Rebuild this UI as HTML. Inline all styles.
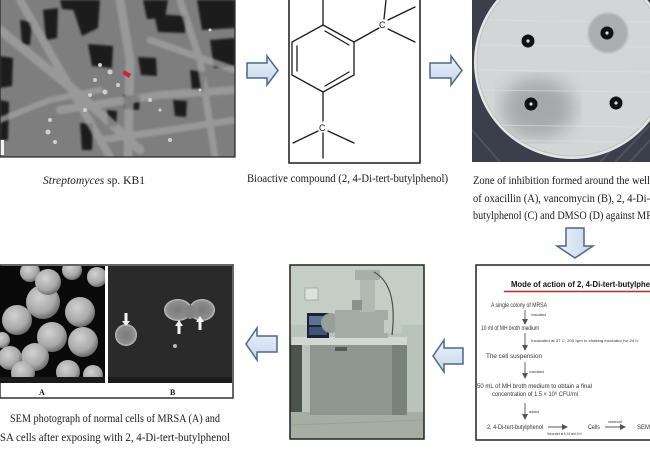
<!DOCTYPE html>
<html><head><meta charset="utf-8"><style>
html,body{margin:0;padding:0;background:#fff;}
svg{display:block;}
</style></head><body>
<svg width="650" height="450" viewBox="0 0 650 450" xmlns="http://www.w3.org/2000/svg">
<defs>
<linearGradient id="ag" x1="0" y1="0" x2="0" y2="1"><stop offset="0" stop-color="#eef3fa"/><stop offset="1" stop-color="#c6d5ea"/></linearGradient>
<linearGradient id="agh" x1="0" y1="0" x2="1" y2="0"><stop offset="0" stop-color="#eef3fa"/><stop offset="1" stop-color="#c6d5ea"/></linearGradient>
<radialGradient id="sph" cx="0.4" cy="0.35" r="0.65"><stop offset="0" stop-color="#d2d2d2"/><stop offset="0.7" stop-color="#a8a8a8"/><stop offset="1" stop-color="#6e6e6e"/></radialGradient>
<radialGradient id="cel" cx="0.5" cy="0.5" r="0.5"><stop offset="0" stop-color="#7a7a7a"/><stop offset="0.8" stop-color="#8e8e8e"/><stop offset="1" stop-color="#c4c4c4"/></radialGradient>
<filter id="b1"><feGaussianBlur stdDeviation="1"/></filter>
<filter id="b2"><feGaussianBlur stdDeviation="2.5"/></filter>
<filter id="b8"><feGaussianBlur stdDeviation="9"/></filter>
<clipPath id="semc"><rect x="0" y="0" width="235" height="157"/></clipPath>
<clipPath id="platec"><rect x="472" y="0" width="178" height="162"/></clipPath>
<clipPath id="dishc"><ellipse cx="572" cy="62" rx="95" ry="94"/></clipPath>
<clipPath id="pa"><rect x="0" y="266" width="105" height="117"/></clipPath>
<clipPath id="pb"><rect x="108" y="266" width="124" height="117"/></clipPath>
<clipPath id="mc"><rect x="290" y="265" width="134" height="174"/></clipPath>
<marker id="ah" markerWidth="6" markerHeight="6" refX="5" refY="3" orient="auto" markerUnits="userSpaceOnUse"><path d="M0,0 L6,3 L0,6 Z" fill="#555"/></marker>
</defs>

<!-- ===== SEM Streptomyces ===== -->
<g clip-path="url(#semc)">
<rect x="0" y="0" width="235" height="157" fill="#7e7e7e"/>
<g fill="#1c1c1c" filter="url(#b1)">
<polygon points="70,0 100,0 98,28 82,36"/>
<polygon points="60,0 77,0 74,10 62,9"/>
<polygon points="43,10 58,8 57,38 46,40"/>
<polygon points="88,44 113,46 112,68 92,66"/>
<polygon points="138,57 156,58 157,76 141,75"/>
<polygon points="143,0 168,0 165,18 147,19"/>
<polygon points="154,14 186,16 185,33 158,32"/>
<polygon points="197,0 235,0 235,28 202,30"/>
<polygon points="0,56 13,58 12,86 0,88"/>
<polygon points="210,40 235,38 235,66 214,68"/>
<polygon points="123,95 140,96 139,110 125,109"/>
<polygon points="173,100 187,101 186,117 175,116"/>
<polygon points="0,100 9,102 8,140 0,140"/>
<polygon points="80,123 93,124 92,150 82,150"/>
<polygon points="107,110 117,111 116,127 108,126"/>
<polygon points="20,20 32,22 30,45 22,44"/>
<polygon points="190,70 205,72 204,92 192,90"/>
</g>
<g stroke="#a2a2a2" stroke-linecap="round" fill="none" opacity="0.75" filter="url(#b1)">
<path d="M0,30 L80,95 L140,150" stroke-width="9"/>
<path d="M20,0 L60,70 L110,157" stroke-width="8"/>
<path d="M120,0 L130,60 L128,157" stroke-width="9"/>
<path d="M235,90 L160,95 L60,110" stroke-width="8"/>
<path d="M235,120 L170,130 L100,140" stroke-width="7"/>
<path d="M150,40 L235,70" stroke-width="7"/>
<path d="M0,120 L50,100 L100,90" stroke-width="6"/>
<path d="M180,0 L200,60 L215,157" stroke-width="7"/>
</g>
<g fill="#d0d0d0">
<circle cx="100" cy="65" r="2"/><circle cx="110" cy="72" r="2.5"/><circle cx="95" cy="80" r="2"/><circle cx="118" cy="85" r="2"/><circle cx="105" cy="92" r="2.5"/><circle cx="90" cy="95" r="2"/><circle cx="50" cy="120" r="2"/><circle cx="48" cy="132" r="2.5"/><circle cx="55" cy="142" r="2"/><circle cx="150" cy="100" r="2"/><circle cx="160" cy="110" r="1.5"/><circle cx="200" cy="90" r="1.5"/><circle cx="210" cy="30" r="1.5"/><circle cx="170" cy="140" r="2"/><circle cx="85" cy="110" r="2"/>
</g>
<path d="M124,70 L131,74 L129,78 L123,74 Z" fill="#d0203a"/>
<rect x="0" y="140" width="4" height="15" fill="#f2f2f2"/>
</g>
<rect x="0" y="-2" width="235" height="159" fill="none" stroke="#222" stroke-width="1.2"/>
<text x="43" y="184" font-family="Liberation Serif, serif" font-size="11.5" fill="#1a1a1a" textLength="102" lengthAdjust="spacingAndGlyphs"><tspan font-style="italic">Streptomyces</tspan> sp. KB1</text>

<!-- arrow 1 -->
<path d="M247,63 H267 V56 L278,70.5 L267,85 V78 H247 Z" fill="url(#ag)" stroke="#4d6690" stroke-width="1.5" stroke-linejoin="miter"/>

<!-- ===== Structure ===== -->
<rect x="289" y="-3" width="131" height="166" fill="#fff" stroke="#1a1a1a" stroke-width="1.5"/>
<g stroke="#1a1a1a" stroke-width="1.3" fill="none" stroke-linecap="round">
<polygon points="323,25 354,42 354,75 323,92 292,75 292,42"/>
<line x1="297" y1="46" x2="297" y2="71"/>
<line x1="325" y1="31" x2="349" y2="45"/>
<line x1="349" y1="72" x2="325" y2="86"/>
<line x1="323" y1="25" x2="323" y2="0"/>
<line x1="354" y1="42" x2="379" y2="28"/>
<line x1="384" y1="19" x2="386" y2="0"/>
<line x1="388" y1="20" x2="415" y2="7"/>
<line x1="388" y1="29" x2="415" y2="42"/>
<line x1="323" y1="92" x2="323" y2="121"/>
<line x1="318" y1="131" x2="293" y2="143"/>
<line x1="328" y1="131" x2="354" y2="143"/>
<line x1="323" y1="133" x2="323" y2="158"/>
</g>
<text x="379" y="28" font-family="Liberation Sans, sans-serif" font-size="9" fill="#1a1a1a">C</text>
<text x="319" y="131" font-family="Liberation Sans, sans-serif" font-size="9" fill="#1a1a1a">C</text>
<text x="247" y="182" font-family="Liberation Serif, serif" font-size="11.5" fill="#1a1a1a" textLength="201" lengthAdjust="spacingAndGlyphs">Bioactive compound (2, 4-Di-tert-butylphenol)</text>

<!-- arrow 2 -->
<path d="M430,63 H451 V56 L462,70.5 L451,85 V78 H430 Z" fill="url(#ag)" stroke="#4d6690" stroke-width="1.5"/>

<!-- ===== Plate ===== -->
<g clip-path="url(#platec)">
<rect x="472" y="0" width="178" height="162" fill="#3b3e4b"/>
<g stroke="#575b6a" stroke-width="2" opacity="0.7">
<line x1="600" y1="162" x2="650" y2="110"/><line x1="615" y1="162" x2="650" y2="125"/><line x1="630" y1="162" x2="650" y2="140"/><line x1="472" y1="130" x2="500" y2="162"/>
</g>
<ellipse cx="572" cy="62" rx="98" ry="97" fill="#e4e5e6"/>
<ellipse cx="572" cy="62" rx="95" ry="94" fill="#d3d5d6" stroke="#bfc1c2" stroke-width="1"/>
<g clip-path="url(#dishc)">
<ellipse cx="538" cy="108" rx="36" ry="30" fill="#a6a8aa" filter="url(#b8)"/>
<g stroke="#dfe0e1" stroke-width="1" opacity="0.6">
<line x1="480" y1="20" x2="650" y2="22"/><line x1="480" y1="45" x2="650" y2="47"/><line x1="480" y1="70" x2="650" y2="72"/><line x1="480" y1="90" x2="650" y2="92"/><line x1="480" y1="125" x2="650" y2="127"/><line x1="480" y1="140" x2="650" y2="142"/>
</g>
</g>
<circle cx="608" cy="33" r="20" fill="#abadaf" filter="url(#b1)"/>
<g fill="#111">
<circle cx="528" cy="41" r="6.5"/><circle cx="607" cy="33" r="6.5"/><circle cx="531" cy="104" r="6.5"/><circle cx="616" cy="103" r="6.5"/>
</g>
<g fill="#ddd">
<circle cx="528" cy="41" r="1.6"/><circle cx="607" cy="33" r="1.6"/><circle cx="531" cy="104" r="1.6"/><circle cx="616" cy="103" r="1.6"/>
</g>
</g>
<g font-family="Liberation Serif, serif" font-size="11.5" fill="#1a1a1a">
<text x="473" y="184" textLength="177" lengthAdjust="spacingAndGlyphs">Zone of inhibition formed around the well</text>
<text x="473" y="202" textLength="177" lengthAdjust="spacingAndGlyphs">of oxacillin (A), vancomycin (B), 2, 4-Di-</text>
<text x="473" y="219" textLength="180" lengthAdjust="spacingAndGlyphs">butylphenol (C) and DMSO (D) against MR</text>
</g>

<!-- down arrow -->
<path d="M566,228 H584 V246 H593 L575,258 L557,246 H566 Z" fill="url(#agh)" stroke="#4d6690" stroke-width="1.5"/>

<!-- ===== Flowchart ===== -->
<rect x="476" y="265" width="180" height="175" fill="#fff" stroke="#222" stroke-width="1.5"/>
<text x="511" y="287" font-family="Liberation Sans, sans-serif" font-weight="bold" font-size="8" fill="#111" textLength="139" lengthAdjust="spacingAndGlyphs">Mode of action of 2, 4-Di-tert-butylphe</text>
<line x1="504" y1="291.5" x2="650" y2="291.5" stroke="#d42020" stroke-width="1.6"/>
<g font-family="Liberation Sans, sans-serif" fill="#333">
<text x="491" y="307" font-size="6" textLength="56" lengthAdjust="spacingAndGlyphs">A single colony of MRSA</text>
<text x="531" y="316" font-size="3.5" textLength="15" lengthAdjust="spacingAndGlyphs">Inoculated</text>
<text x="481" y="330" font-size="6" textLength="58" lengthAdjust="spacingAndGlyphs">10 ml of MH broth medium</text>
<text x="531" y="342" font-size="3.5" textLength="108" lengthAdjust="spacingAndGlyphs">Incubated at 37 C, 200 rpm in shaking incubator for 24 h.</text>
<text x="486" y="358" font-size="6" textLength="56" lengthAdjust="spacingAndGlyphs">The cell suspension</text>
<text x="529" y="373" font-size="3.5" textLength="15" lengthAdjust="spacingAndGlyphs">Inoculated</text>
<text x="477" y="388" font-size="6" textLength="115" lengthAdjust="spacingAndGlyphs">50 mL of MH broth medium to obtain a final</text>
<text x="492" y="396" font-size="6" textLength="86" lengthAdjust="spacingAndGlyphs">concentration of  1.5 × 10⁶ CFU/ml</text>
<text x="529" y="413" font-size="3.5" textLength="10" lengthAdjust="spacingAndGlyphs">added</text>
<text x="487" y="429" font-size="6" textLength="56" lengthAdjust="spacingAndGlyphs">2, 4-Di-tert-butylphenol</text>
<text x="588" y="429" font-size="6" textLength="12" lengthAdjust="spacingAndGlyphs">Cells</text>
<text x="637" y="429" font-size="6" textLength="13" lengthAdjust="spacingAndGlyphs">SEM</text>
<text x="547" y="435" font-size="3.5" textLength="35" lengthAdjust="spacingAndGlyphs">Harvested at 6, 18 and 24 h</text>
<text x="608" y="423" font-size="3.5" textLength="14" lengthAdjust="spacingAndGlyphs">observed</text>
</g>
<g stroke="#555" stroke-width="0.9" marker-end="url(#ah)">
<line x1="525" y1="310" x2="525" y2="324"/>
<line x1="525" y1="333" x2="525" y2="350"/>
<line x1="525" y1="362" x2="525" y2="378"/>
<line x1="525" y1="403" x2="525" y2="419"/>
<line x1="548" y1="427" x2="567" y2="427"/>
<line x1="605" y1="427" x2="625" y2="427"/>
</g>

<!-- left arrow 1 -->
<path d="M463,348 H444 V340 L433,356 L444,372 V364 H463 Z" fill="url(#ag)" stroke="#4d6690" stroke-width="1.5"/>

<!-- ===== SEM machine photo ===== -->
<g clip-path="url(#mc)">
<rect x="290" y="265" width="134" height="174" fill="#b8c3ba"/>
<rect x="290" y="265" width="134" height="60" fill="#c4cec5"/>
<rect x="290" y="345" width="12" height="70" fill="#4c524c"/>
<rect x="290" y="412" width="134" height="27" fill="#a6aea4"/>
<line x1="290" y1="425" x2="424" y2="420" stroke="#98a096" stroke-width="1"/>
<rect x="305" y="288" width="13" height="12" fill="#dde1dc" stroke="#9aa29a" stroke-width="0.8"/>
<rect x="292" y="337" width="115" height="8" fill="#d3d6d1"/>
<rect x="310" y="345" width="82" height="70" fill="#8e9690"/>
<rect x="392" y="345" width="15" height="70" fill="#79817b"/>
<rect x="335" y="347" width="12" height="4" fill="#555c56"/>
<rect x="307" y="313" width="22" height="25" fill="#1d2430"/>
<rect x="309" y="316" width="18" height="9" fill="#5b7396"/>
<rect x="309" y="327" width="18" height="8" fill="#3f5577"/>
<circle cx="331" cy="323" r="10" fill="#98a09a"/>
<rect x="335" y="310" width="53" height="28" fill="#a3aba5"/>
<rect x="360" y="272" width="15" height="40" fill="#b1b9b3"/>
<rect x="355" y="270" width="25" height="10" fill="#a7afa9"/>
<rect x="384" y="320" width="18" height="13" fill="#c3c9c3"/>
<path d="M374,272 Q398,285 392,335" stroke="#4a4f4a" stroke-width="1.2" fill="none"/>
<rect x="352" y="300" width="10" height="10" fill="#8a928c"/>
</g>
<rect x="290" y="265" width="134" height="174" fill="none" stroke="#222" stroke-width="1.5"/>

<!-- left arrow 2 -->
<path d="M277,336 H257 V328 L246,344 L257,360 V352 H277 Z" fill="url(#ag)" stroke="#4d6690" stroke-width="1.5"/>

<!-- ===== SEM panels A/B ===== -->
<rect x="0" y="265" width="233" height="133" fill="#fff" stroke="#333" stroke-width="1.5"/>
<g clip-path="url(#pa)">
<rect x="0" y="266" width="105" height="117" fill="#0a0a0a"/>
<g fill="url(#sph)">
<circle cx="30" cy="272" r="10"/><circle cx="72" cy="270" r="10"/><circle cx="97" cy="277" r="10"/>
<circle cx="43" cy="302" r="17"/><circle cx="48" cy="282" r="13"/>
<circle cx="80" cy="312" r="15"/><circle cx="17" cy="320" r="15"/>
<circle cx="52" cy="337" r="15"/><circle cx="83" cy="342" r="15"/>
<circle cx="2" cy="340" r="8"/>
<circle cx="35" cy="357" r="14"/><circle cx="10" cy="358" r="12"/>
<circle cx="23" cy="373" r="12"/><circle cx="68" cy="372" r="12"/><circle cx="93" cy="375" r="10"/>
</g>
<rect x="0" y="377" width="105" height="6" fill="#1a1a1a"/>
</g>
<g clip-path="url(#pb)">
<rect x="108" y="266" width="124" height="117" fill="#2a2a2a"/>
<circle cx="126" cy="335" r="11" fill="url(#cel)"/>
<ellipse cx="178" cy="310" rx="14" ry="11" fill="url(#cel)"/>
<ellipse cx="202" cy="310" rx="13" ry="11" fill="url(#cel)"/>
<ellipse cx="190" cy="312" rx="6" ry="7" fill="#848484"/>
<circle cx="175" cy="346" r="2" fill="#bbb"/>
<g fill="#f4f4f4">
<rect x="124.5" y="313" width="3" height="9"/><polygon points="122,321 130,321 126,326"/>
<rect x="177.5" y="325" width="3" height="9"/><polygon points="175,326 183,326 179,320"/>
<rect x="198.5" y="321" width="3" height="9"/><polygon points="196,322 204,322 200,316"/>
</g>
<rect x="108" y="377" width="124" height="6" fill="#1a1a1a"/>
</g>
<g font-family="Liberation Serif, serif" font-weight="bold" font-size="8" fill="#111">
<text x="39" y="395">A</text><text x="170" y="395">B</text>
</g>
<g font-family="Liberation Serif, serif" font-size="11.5" fill="#1a1a1a">
<text x="10" y="422" textLength="210" lengthAdjust="spacingAndGlyphs">SEM photograph of normal cells of MRSA (A) and</text>
<text x="0" y="441" textLength="230" lengthAdjust="spacingAndGlyphs">SA cells after  exposing with 2, 4-Di-tert-butylphenol</text>
</g>
</svg>
</body></html>
